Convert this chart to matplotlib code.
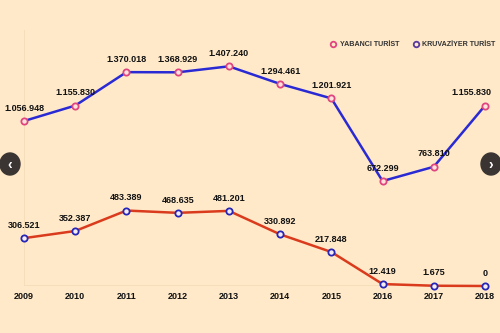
import matplotlib.pyplot as plt
from matplotlib.patches import Ellipse

years = [2009, 2010, 2011, 2012, 2013, 2014, 2015, 2016, 2017, 2018]
yabanci = [1056948, 1155830, 1370018, 1368929, 1407240, 1294461, 1201921, 672299, 763810, 1155830]
kruvaziyer = [306521, 352387, 483389, 468635, 481201, 330892, 217848, 12419, 1675, 0]
yabanci_labels = ['1.056.948', '1.155.830', '1.370.018', '1.368.929', '1.407.240',
                  '1.294.461', '1.201.921', '672.299', '763.810', '1.155.830']
kruvaziyer_labels = ['306.521', '352.387', '483.389', '468.635', '481.201',
                     '330.892', '217.848', '12.419', '1.675', '0']

bg = '#ffe9c9'
plt.rcParams['font.family'] = ['Liberation Sans Narrow', 'Liberation Sans', 'DejaVu Sans']

fig = plt.figure(figsize=(5, 3.33), dpi=100, facecolor=bg)
ax = fig.add_axes([24 / 500, 47 / 333, 461 / 500, 256 / 333])
ax.set_facecolor(bg)
ax.set_xlim(2009, 2018)
ax.set_ylim(0, 1.64e6)

# yabanci: blue line, pink markers
ax.plot(years, yabanci, color='#2a2ad4', lw=1.8, zorder=3, clip_on=False)
ax.plot(years, yabanci, 'o', ms=4.5, mfc='#fde3dc', mec='#e0457f', mew=1.3,
        zorder=4, clip_on=False)
# kruvaziyer: red line, blue markers
ax.plot(years, kruvaziyer, color='#d93b1c', lw=1.8, zorder=3, clip_on=False)
ax.plot(years, kruvaziyer, 'o', ms=4.5, mfc='#f4ecf0', mec='#2626b8', mew=1.3,
        zorder=4, clip_on=False)

for i, (x, y, s) in enumerate(zip(years, yabanci, yabanci_labels)):
    dx = -10 if i == len(years) - 1 else 0
    ax.annotate(s, (x, y), xytext=(dx, 6), textcoords='offset points',
                ha='center', va='bottom', fontsize=6.5, fontweight='bold', color='#111')
for x, y, s in zip(years, kruvaziyer, kruvaziyer_labels):
    ax.annotate(s, (x, y), xytext=(0, 6), textcoords='offset points',
                ha='center', va='bottom', fontsize=6.5, fontweight='bold', color='#111')

for sp in ax.spines.values():
    sp.set_visible(False)
ax.axhline(0, color='#f3dcb8', lw=1.2, zorder=1)
ax.axvline(2009, color='#f3dcb8', lw=1.2, zorder=1)
ax.set_yticks([])
ax.set_xticks(years)
ax.set_xticklabels([str(y) for y in years], fontsize=6.5, fontweight='bold', color='#111')
ax.tick_params(axis='x', length=0, pad=4)

# legend
lx1, lx2, ly = 333 / 500, 416 / 500, 1 - 44 / 333
fig.add_artist(plt.Line2D([lx1], [ly], marker='o', ms=4, mfc=bg, mec='#e0457f', mew=1.3,
                          transform=fig.transFigure))
fig.text(lx1 + 7 / 500, ly, 'YABANCI TURİST', fontsize=5.1, fontweight='bold',
         color='#333', va='center', ha='left')
fig.add_artist(plt.Line2D([lx2], [ly], marker='o', ms=4, mfc=bg, mec='#5a3aa0', mew=1.3,
                          transform=fig.transFigure))
fig.text(lx2 + 6 / 500, ly, 'KRUVAZİYER TURİST', fontsize=5.1, fontweight='bold',
         color='#333', va='center', ha='left')

# carousel arrows
for cx, ch in [(10, '‹'), (491, '›')]:
    fig.add_artist(Ellipse((cx / 500, 1 - 164 / 333), 20 / 500, 22 / 333,
                           transform=fig.transFigure, color='#3a3532'))
    fig.text(cx / 500, 1 - 165 / 333, ch, color='white', fontsize=10,
             fontweight='bold', ha='center', va='center')

fig.savefig('out.png', dpi=100, facecolor=bg)
